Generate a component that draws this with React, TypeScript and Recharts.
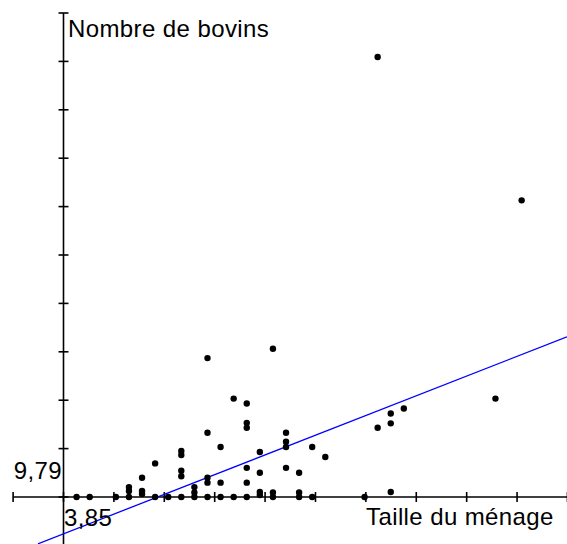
import { ScatterChart, Scatter, XAxis, YAxis, ReferenceLine } from "recharts";

// household size (persons) and number of cattle, one entry per household
const householdSize = [
  1, 2, 4,
  5, 5, 5,
  6, 6, 6,
  7, 7,
  8,
  9, 9, 9, 9, 9,
  10, 10, 10,
  11, 11, 11, 11, 11,
  12, 12, 12,
  13, 13,
  14, 14, 14, 14, 14, 14,
  15, 15, 15, 15,
  16, 16, 16,
  17, 17, 17, 17,
  18, 18, 18,
  19, 19,
  20,
  23,
  24, 24,
  25, 25, 25,
  26,
  33,
  35,
];
const cattleCount = [
  0, 0, 0,
  0, 1.2, 2,
  0.6, 1.2, 3.9,
  0, 6.8,
  0,
  0, 4.2, 5.3, 8.5, 9.3,
  0, 0.9, 2,
  0, 2.9, 3.9, 13, 28.1,
  0, 2.9, 10.1,
  0, 19.9,
  0, 2.9, 5.9, 14, 15, 18.9,
  0.4, 1, 4.9, 9.1,
  0, 0.9, 30,
  5.9, 10.1, 11.2, 13,
  0, 0.9, 4.9,
  0, 10.1,
  8.1,
  0,
  14, 89,
  1, 14.9, 16.9,
  17.9,
  19.9,
  60,
];

// axis graduations: one step = 3,85 persons and 9,79 head of cattle
const xTicks = [-3.85, 0, 3.85, 7.7, 11.55, 15.4, 19.25, 23.1, 26.95, 30.8, 34.65, 38.5];
const yTicks = [-9.79, 0, 9.79, 19.58, 29.37, 39.16, 48.95, 58.74, 68.53, 78.32, 88.11, 97.9];

// fitted line end points
const regX = [-1.95, 38.46];
const regY = [-9.47, 32.4];

const W = 567;
const H = 544;
const X_DOMAIN: [number, number] = [-4.851, 38.465];
const Y_DOMAIN: [number, number] = [-9.506, 100.53];
const FONT = '"Liberation Sans", Arial, sans-serif';

const points = householdSize.map((x, i) => ({ x, y: cattleCount[i] }));

const Dot = (props: any) => <circle cx={props.cx} cy={props.cy} r={3.2} fill="#000" />;

export default function App() {
  const tickHalfY = 1.01; // half tick length along y (data units)
  const tickHalfX = 0.38; // half tick length along x

  return (
    <div style={{ position: "absolute", left: 0, top: 0, width: W, height: H, background: "#fff" }}>
      <ScatterChart width={W} height={H} margin={{ top: 0, right: 0, bottom: 0, left: 0 }}>
        <XAxis type="number" dataKey="x" domain={X_DOMAIN} allowDataOverflow hide />
        <YAxis type="number" dataKey="y" domain={Y_DOMAIN} allowDataOverflow hide />

        {/* axes through the origin */}
        <ReferenceLine
          segment={[{ x: xTicks[0], y: 0 }, { x: X_DOMAIN[1], y: 0 }]}
          stroke="#000"
          strokeWidth={1.6}
          ifOverflow="visible"
        />
        <ReferenceLine
          segment={[{ x: 0, y: Y_DOMAIN[0] }, { x: 0, y: yTicks[yTicks.length - 1] }]}
          stroke="#000"
          strokeWidth={1.6}
          ifOverflow="visible"
        />
        {xTicks.map((t) => (
          <ReferenceLine
            key={"xt" + t}
            segment={[{ x: t, y: -tickHalfY }, { x: t, y: tickHalfY }]}
            stroke="#000"
            strokeWidth={1.6}
            ifOverflow="visible"
          />
        ))}
        {yTicks.map((t) => (
          <ReferenceLine
            key={"yt" + t}
            segment={[{ x: -tickHalfX, y: t }, { x: tickHalfX, y: t }]}
            stroke="#000"
            strokeWidth={1.6}
            ifOverflow="visible"
          />
        ))}

        <ReferenceLine
          segment={[{ x: regX[0], y: regY[0] }, { x: regX[1], y: regY[1] }]}
          stroke="#0000ff"
          strokeWidth={1.3}
          ifOverflow="visible"
        />

        <Scatter data={points} shape={Dot} isAnimationActive={false} />
      </ScatterChart>

      <svg
        width={W}
        height={H}
        style={{ position: "absolute", left: 0, top: 0, pointerEvents: "none" }}
        fontFamily={FONT}
        fontSize={24}
        letterSpacing={0.4}
        fill="#000"
      >
        <text x={68} y={37}>Nombre de bovins</text>
        <text x={62} y={479} textAnchor="end">9,79</text>
        <text x={64} y={526}>3,85</text>
        <text x={366} y={525}>Taille du ménage</text>
      </svg>
    </div>
  );
}
